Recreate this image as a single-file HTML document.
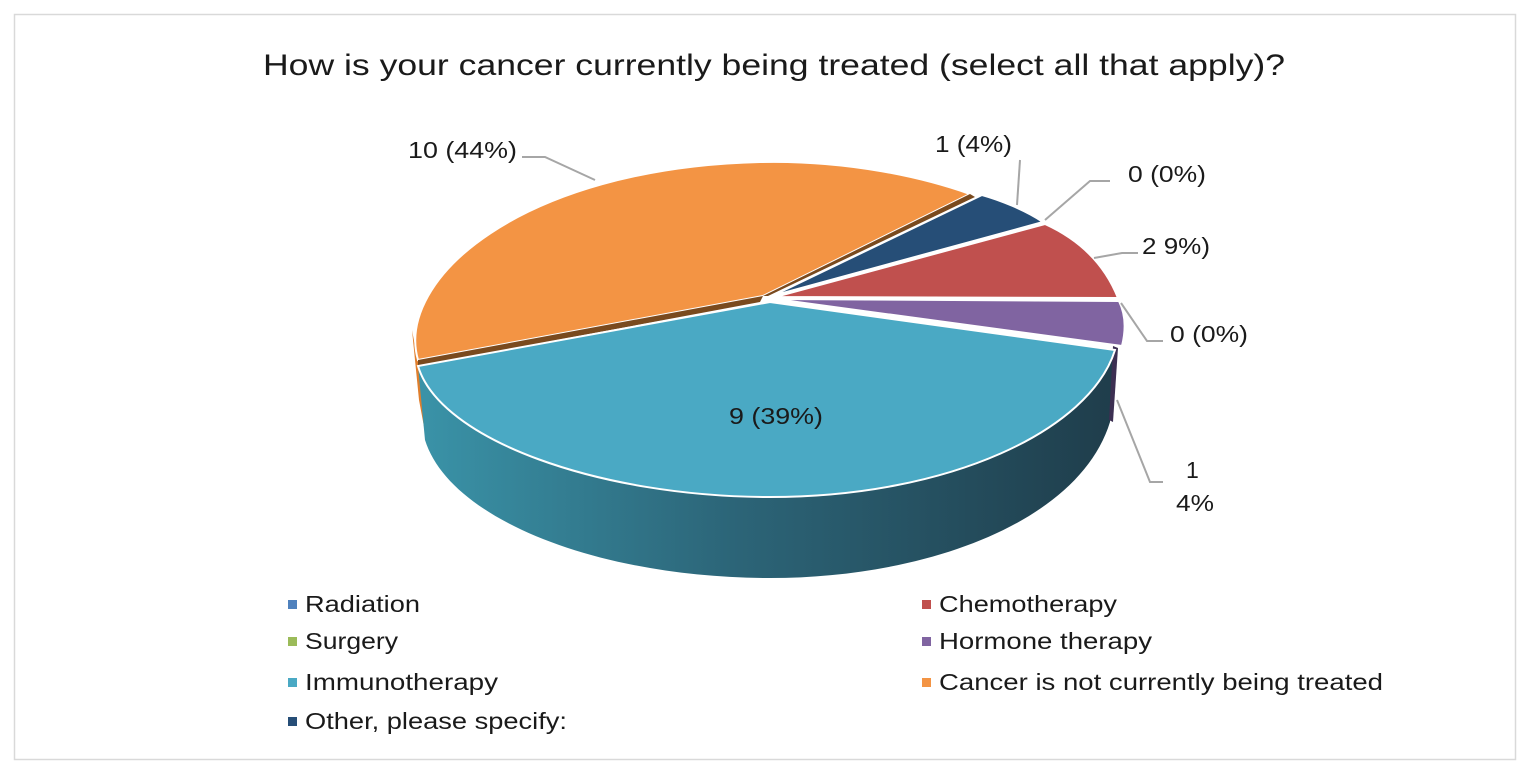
<!DOCTYPE html>
<html><head><style>
body{margin:0;background:#fff;width:1530px;height:773px;overflow:hidden;font-family:"Liberation Sans",Arial,sans-serif}
</style></head><body>
<svg width="1530" height="773" xmlns="http://www.w3.org/2000/svg" font-family="Liberation Sans, Arial, sans-serif">
<defs>
<linearGradient id="cs" x1="0" x2="1" y1="0" y2="0">
<stop offset="0" stop-color="#3a93a8"/><stop offset="0.45" stop-color="#2c6578"/><stop offset="1" stop-color="#1f3d4b"/>
</linearGradient>
</defs>
<rect x="14.5" y="14.5" width="1501" height="745" fill="#fff" stroke="#d9d9d9" stroke-width="1.5"/>
<text x="263" y="75" font-size="30" textLength="1022" lengthAdjust="spacingAndGlyphs" fill="#1a1a1a">How is your cancer currently being treated (select all that apply)?</text>
<!-- sides -->
<path d="M412,330 L418,362 L425,432 L419,400 Z" fill="#e07e2c"/>
<path d="M418,366 C440,440 600,497 770,497 C950,497 1090,430 1115,350 L1110,422 C1080,520 930,578 770,578 C600,578 450,520 425,440 Z" fill="url(#cs)"/>
<path d="M1113,346 L1118,348 L1113,422 L1109,420 Z" fill="#3c2f52"/>
<!-- tops -->
<path d="M763,296 L418,360 C395,280 520,168 760,162 C850,160 925,178 970,194 Z" fill="#f39444" stroke="#fff" stroke-width="2"/>
<path d="M418,360 L763,296 L760,302 L418,366 Z" fill="#7a4a1e"/>
<path d="M970,194 L763,296 L768,296 L975,197 Z" fill="#7a4a1e"/>
<path d="M772,296 L982,195 C1000,200 1025,210 1043,222 Z" fill="#264e77" stroke="#fff" stroke-width="2"/>
<path d="M775,297 L1045,224 C1080,240 1105,265 1118,298 Z" fill="#c0504e" stroke="#fff" stroke-width="2"/>
<path d="M775,299 L1119,301 C1126,315 1126,330 1122,346 Z" fill="#8064a1" stroke="#fff" stroke-width="2"/>
<path d="M770,302 L1115,350 C1090,430 950,497 770,497 C600,497 440,440 418,366 Z" fill="#4aa9c4" stroke="#fff" stroke-width="2"/>
<!-- leaders -->
<g stroke="#a6a6a6" stroke-width="2" fill="none">
<polyline points="522,157 545,157 595,180"/>
<polyline points="1020,160 1017,205"/>
<polyline points="1110,181 1090,181 1045,220"/>
<polyline points="1138,253 1122,253 1094,258"/>
<polyline points="1163,341 1147,341 1121,303"/>
<polyline points="1163,482 1150,482 1117,400"/>
</g>
<g font-size="23" fill="#1a1a1a" lengthAdjust="spacingAndGlyphs">
<text x="408" y="158" textLength="109" lengthAdjust="spacingAndGlyphs">10 (44%)</text>
<text x="935" y="152" textLength="77" lengthAdjust="spacingAndGlyphs">1 (4%)</text>
<text x="1128" y="182" textLength="78" lengthAdjust="spacingAndGlyphs">0 (0%)</text>
<text x="1142" y="254" textLength="68" lengthAdjust="spacingAndGlyphs">2 9%)</text>
<text x="1170" y="342" textLength="78" lengthAdjust="spacingAndGlyphs">0 (0%)</text>
<text x="1186" y="478">1</text>
<text x="1176" y="511" textLength="38" lengthAdjust="spacingAndGlyphs">4%</text>
<text x="729" y="424" textLength="94" lengthAdjust="spacingAndGlyphs">9 (39%)</text>
</g>
<g font-size="23" fill="#1a1a1a">
<rect x="288" y="600" width="9" height="9" fill="#4f81bd"/><text x="305" y="612" textLength="115" lengthAdjust="spacingAndGlyphs">Radiation</text>
<rect x="288" y="637" width="9" height="9" fill="#9bbb59"/><text x="305" y="649" textLength="93" lengthAdjust="spacingAndGlyphs">Surgery</text>
<rect x="288" y="678" width="9" height="9" fill="#4aa9c4"/><text x="305" y="690" textLength="193" lengthAdjust="spacingAndGlyphs">Immunotherapy</text>
<rect x="288" y="717" width="9" height="9" fill="#264e77"/><text x="305" y="729" textLength="262" lengthAdjust="spacingAndGlyphs">Other, please specify:</text>
<rect x="922" y="600" width="9" height="9" fill="#c0504e"/><text x="939" y="612" textLength="178" lengthAdjust="spacingAndGlyphs">Chemotherapy</text>
<rect x="922" y="637" width="9" height="9" fill="#8064a1"/><text x="939" y="649" textLength="213" lengthAdjust="spacingAndGlyphs">Hormone therapy</text>
<rect x="922" y="678" width="9" height="9" fill="#f39444"/><text x="939" y="690" textLength="444" lengthAdjust="spacingAndGlyphs">Cancer is not currently being treated</text>
</g>
</svg>
</body></html>
